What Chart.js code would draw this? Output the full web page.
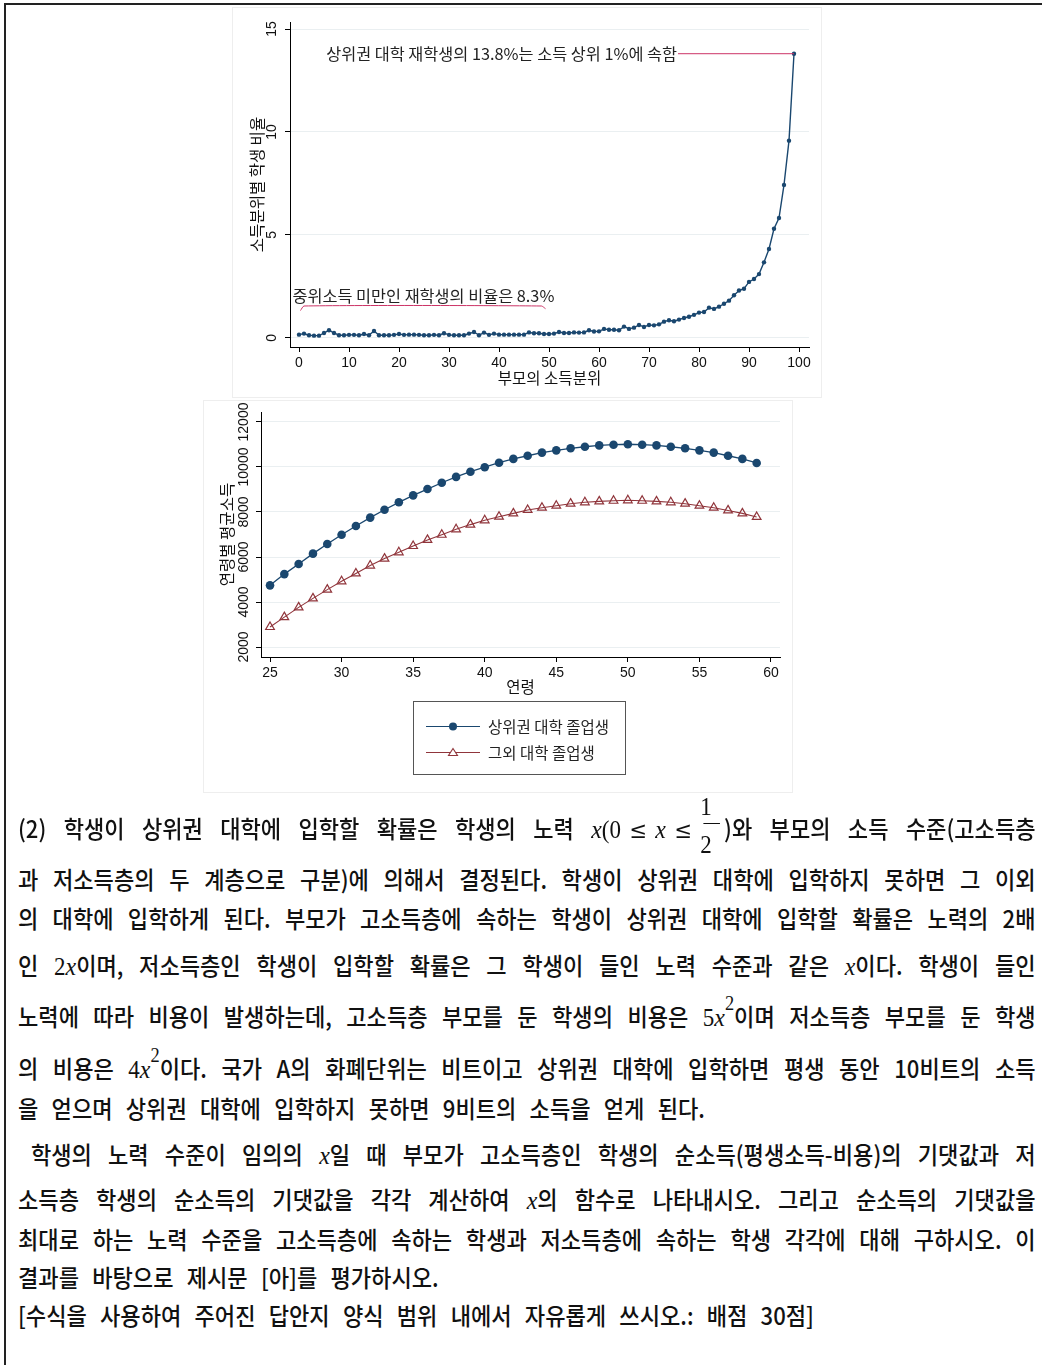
<!DOCTYPE html>
<html><head><meta charset="utf-8">
<script src="https://cdn.jsdelivr.net/npm/chart.js@4.4.0/dist/chart.umd.min.js"></script>
<style>
html,body{margin:0;padding:0;background:#fff;}
body{width:1042px;height:1365px;position:relative;overflow:hidden;font-family:"Noto Sans CJK KR",sans-serif;}
#frame{position:absolute;left:4px;top:3px;width:1100px;height:1400px;border-left:2px solid #222;border-top:2px solid #222;}
.panel{position:absolute;border:1px solid #eeeeee;box-sizing:border-box;}
canvas{position:absolute;}
.ln{position:absolute;left:18px;width:1106px;transform:scaleX(0.92);transform-origin:0 0;font-size:24px;font-weight:500;line-height:28px;color:#111;word-break:keep-all;white-space:normal;}
.j{text-align:justify;text-align-last:justify;}
.l{text-align:left;word-spacing:9px;}
.mb{display:inline-block;text-align:left;}
.mx{font-family:"Liberation Serif","DejaVu Serif",serif;font-style:italic;font-size:26px;font-weight:400;}
.mr{font-family:"Liberation Serif","DejaVu Serif",serif;font-size:25px;font-weight:400;}
.op{font-family:"DejaVu Serif",serif;font-size:23px;font-weight:400;margin:0 9px;}
.sup{position:relative;top:-0.8em;font-family:"Liberation Serif",serif;font-size:20px;font-weight:400;}
.frac{display:inline-block;position:relative;width:26px;height:1em;font-family:"Liberation Serif",serif;font-size:25px;font-weight:400;}
.frac .n{position:absolute;left:0;width:26px;text-align:center;top:-18px;line-height:24px;}
.frac .b{position:absolute;left:4px;width:18px;top:10px;border-top:1px solid #111;}
.frac .d{position:absolute;left:0;width:26px;text-align:center;top:20px;line-height:24px;}
</style>
</head><body>
<div id="frame"></div>
<div class="panel" style="left:232px;top:7px;width:590px;height:391px;"></div>
<div class="panel" style="left:203px;top:400px;width:590px;height:393px;"></div>
<canvas id="c1" width="590" height="391" style="left:232px;top:7px;"></canvas>
<canvas id="c2" width="590" height="393" style="left:203px;top:400px;"></canvas>

<div class="ln j" style="top:813px">(2) 학생이 상위권 대학에 입학할 확률은 학생의 노력 <span class="mb"><span class="mx">x</span><span class="mr">(0</span><span class="op">≤</span><span class="mx">x</span><span class="op">≤</span><span class="frac"><span class="n">1</span><span class="b"></span><span class="d">2</span></span></span>)와 부모의 소득 수준(고소득층</div>
<div class="ln j" style="top:865px">과 저소득층의 두 계층으로 구분)에 의해서 결정된다. 학생이 상위권 대학에 입학하지 못하면 그 이외</div>
<div class="ln j" style="top:904px">의 대학에 입학하게 된다. 부모가 고소득층에 속하는 학생이 상위권 대학에 입학할 확률은 노력의 2배</div>
<div class="ln j" style="top:951px">인 <span class="mr">2</span><span class="mx">x</span>이며, 저소득층인 학생이 입학할 확률은 그 학생이 들인 노력 수준과 같은 <span class="mx">x</span>이다. 학생이 들인</div>
<div class="ln j" style="top:1002px">노력에 따라 비용이 발생하는데, 고소득층 부모를 둔 학생의 비용은 <span class="mr">5</span><span class="mx">x</span><span class="sup">2</span>이며 저소득층 부모를 둔 학생</div>
<div class="ln j" style="top:1054px">의 비용은 <span class="mr">4</span><span class="mx">x</span><span class="sup">2</span>이다. 국가 A의 화폐단위는 비트이고 상위권 대학에 입학하면 평생 동안 10비트의 소득</div>
<div class="ln l" style="top:1094px">을 얻으며 상위권 대학에 입학하지 못하면 9비트의 소득을 얻게 된다.</div>
<div class="ln j" style="top:1140px;text-indent:14px">학생의 노력 수준이 임의의 <span class="mx">x</span>일 때 부모가 고소득층인 학생의 순소득(평생소득-비용)의 기댓값과 저</div>
<div class="ln j" style="top:1185px">소득층 학생의 순소득의 기댓값을 각각 계산하여 <span class="mx">x</span>의 함수로 나타내시오. 그리고 순소득의 기댓값을</div>
<div class="ln j" style="top:1225px">최대로 하는 노력 수준을 고소득층에 속하는 학생과 저소득층에 속하는 학생 각각에 대해 구하시오. 이</div>
<div class="ln l" style="top:1263px">결과를 바탕으로 제시문 [아]를 평가하시오.</div>
<div class="ln l" style="top:1301px">[수식을 사용하여 주어진 답안지 양식 범위 내에서 자유롭게 쓰시오.: 배점 30점]</div>

<script>
// ---------- Chart 1 data ----------
const percentiles = [0,1,2,3,4,5,6,7,8,9,10,11,12,13,14,15,16,17,18,19,20,21,22,23,24,25,26,27,28,29,30,31,32,33,34,35,36,37,38,39,40,41,42,43,44,45,46,47,48,49,50,51,52,53,54,55,56,57,58,59,60,61,62,63,64,65,66,67,68,69,70,71,72,73,74,75,76,77,78,79,80,81,82,83,84,85,86,87,88,89,90,91,92,93,94,95,96,97,98,99];
const studentShare = [0.16,0.21,0.13,0.11,0.11,0.24,0.37,0.24,0.13,0.13,
 0.15,0.15,0.13,0.19,0.13,0.34,0.13,0.13,0.13,0.15,
 0.19,0.15,0.16,0.16,0.15,0.13,0.13,0.15,0.13,0.23,
 0.15,0.13,0.13,0.13,0.21,0.29,0.13,0.26,0.15,0.21,
 0.16,0.16,0.16,0.16,0.16,0.16,0.27,0.23,0.23,0.19,
 0.19,0.21,0.29,0.24,0.24,0.27,0.26,0.27,0.37,0.31,
 0.32,0.44,0.40,0.40,0.37,0.55,0.44,0.50,0.63,0.53,
 0.63,0.61,0.66,0.79,0.86,0.81,0.89,0.97,1.03,1.12,
 1.23,1.26,1.47,1.41,1.52,1.66,1.81,2.07,2.30,2.39,
 2.72,2.86,3.10,3.67,4.32,5.30,5.82,7.43,9.58,13.80];
const xTicks1 = [0,10,20,30,40,50,60,70,80,90,100];
const yTicks1 = [0,5,10,15];
const bracketX = [0.3,1.0,48.5,49.3];
const bracketY = [1.33,1.55,1.55,1.42];
const note1 = '상위권 대학 재학생의 13.8%는 소득 상위 1%에 속함';
const note2 = '중위소득 미만인 재학생의 비율은 8.3%';
const yTitle1 = '소득분위별 학생 비율';
const xTitle1 = '부모의 소득분위';

// ---------- Chart 2 data ----------
const ages = [25,26,27,28,29,30,31,32,33,34,35,36,37,38,39,40,41,42,43,44,45,46,47,48,49,50,51,52,53,54,55,56,57,58,59];
const topGrad = [4740,5240,5690,6150,6580,6990,7380,7750,8100,8430,8740,9020,9300,9560,9790,9990,10190,10360,10500,10640,10740,10830,10900,10960,10990,11010,10990,10960,10900,10830,10740,10640,10500,10360,10180];
const otherGrad = [2890,3330,3760,4160,4550,4920,5270,5620,5930,6210,6490,6760,6990,7230,7440,7630,7790,7940,8090,8190,8280,8370,8430,8470,8500,8520,8500,8470,8430,8370,8280,8190,8070,7940,7780];
const xTicks2 = [25,30,35,40,45,50,55,60];
const yTicks2 = [2000,4000,6000,8000,10000,12000];
const seriesNames = ['상위권 대학 졸업생','그외 대학 졸업생'];
const yTitle2 = '연령별 평균소득';
const xTitle2 = '연령';

const BLUE='#1a476f', RED='#90353b', PINK='#cc3366', TXT='#111', GRID='#eaeff1';
const NUMFONT = '"Liberation Sans", Arial, sans-serif';
const KFONT = '"Noto Sans CJK KR", sans-serif';

function fitTo(size){ return function(scale){ if(scale.isHorizontal()) scale.height=size; else scale.width=size; }; }
function setTicks(list){ return function(axis){ axis.ticks = list.map(v=>({value:v})); }; }

function makeDecor(cfg){
  return {
    id:'decor'+cfg.key,
    afterDraw(chart){
      const ctx=chart.ctx, ys=chart.scales.y, ca=chart.chartArea;
      ctx.save();
      ctx.fillStyle=TXT;
      ctx.font='14px '+NUMFONT;
      ctx.textAlign='center'; ctx.textBaseline='middle';
      cfg.yTicks.forEach(v=>{
        const py=ys.getPixelForValue(v);
        ctx.save(); ctx.translate(cfg.yTickX,py); ctx.rotate(-Math.PI/2); ctx.fillText(String(v),0,0); ctx.restore();
      });
      ctx.font='15.5px '+KFONT;
      ctx.save(); ctx.translate(cfg.yTitleX,(ca.top+ca.bottom)/2); ctx.rotate(-Math.PI/2); ctx.fillText(cfg.yTitle,0,0); ctx.restore();
      ctx.fillText(cfg.xTitle,(ca.left+ca.right)/2,cfg.xTitleY);
      if(cfg.extra) cfg.extra(chart,ctx);
      ctx.restore();
    }
  };
}

function baseScales(xmin,xmax,ymin,ymax,xt,yt,xh,yw){
  return {
    x:{type:'linear',min:xmin,max:xmax,afterBuildTicks:setTicks(xt),afterFit:fitTo(xh),
       grid:{display:true,drawOnChartArea:false,drawTicks:true,tickLength:5,tickColor:'#000',tickWidth:1},
       border:{display:true,color:'#000',width:1},
       ticks:{color:TXT,font:{family:NUMFONT,size:14},padding:3,maxRotation:0,autoSkip:false}},
    y:{type:'linear',min:ymin,max:ymax,afterBuildTicks:setTicks(yt),afterFit:fitTo(yw),
       grid:{display:true,drawOnChartArea:true,color:GRID,drawTicks:true,tickLength:5,tickColor:'#000',tickWidth:1},
       border:{display:true,color:'#000',width:1},
       ticks:{display:false}}
  };
}

// ---- Chart 1 ----
const decor1 = makeDecor({key:1,yTicks:yTicks1,yTickX:40,yTitleX:25,yTitle:yTitle1,xTitle:xTitle1,xTitleY:371,
  extra(chart,ctx){
    const xs=chart.scales.x, ys=chart.scales.y;
    const n=percentiles.length-1;
    const px=xs.getPixelForValue(percentiles[n]), py=ys.getPixelForValue(studentShare[n]);
    const lx=xs.getPixelForValue(75.8);
    ctx.strokeStyle=PINK; ctx.lineWidth=1;
    ctx.beginPath(); ctx.moveTo(lx,py); ctx.lineTo(px,py); ctx.stroke();
    ctx.fillStyle='#222'; ctx.font='16.3px '+KFONT; ctx.textBaseline='middle';
    ctx.textAlign='right'; ctx.fillText(note1,lx-1,py);
    ctx.textAlign='left'; ctx.fillText(note2,xs.getPixelForValue(-1.3),ys.getPixelForValue(2.03));
  }});
new Chart(document.getElementById('c1'),{
  type:'line',
  data:{datasets:[
    {data:percentiles.map((p,i)=>({x:p,y:studentShare[i]})),borderColor:BLUE,backgroundColor:BLUE,borderWidth:1.4,pointRadius:2.2,pointBorderWidth:0,pointBackgroundColor:BLUE,tension:0},
    {data:bracketX.map((p,i)=>({x:p,y:bracketY[i]})),borderColor:PINK,borderWidth:1,pointRadius:0,tension:0.2}
  ]},
  options:{responsive:false,animation:false,devicePixelRatio:1,
    layout:{padding:{top:15,right:13,left:0,bottom:0}},
    plugins:{legend:{display:false},tooltip:{enabled:false}},
    scales:baseScales(-1.8,102,-0.44,15.34,xTicks1,yTicks1,51,58)},
  plugins:[decor1]
});

// ---- Chart 2 ----
const decor2 = makeDecor({key:2,yTicks:yTicks2,yTickX:41,yTitleX:24,yTitle:yTitle2,xTitle:xTitle2,xTitleY:287,
  extra(chart,ctx){
    ctx.strokeStyle='#555'; ctx.lineWidth=1;
    ctx.strokeRect(210.5,301.5,212,73);
    const rows=[{y:326,c:BLUE,s:'circle'},{y:352,c:RED,s:'triangle'}];
    rows.forEach((r,i)=>{
      ctx.strokeStyle=r.c; ctx.lineWidth=1.2;
      ctx.beginPath(); ctx.moveTo(223,r.y+0.5); ctx.lineTo(277,r.y+0.5); ctx.stroke();
      if(r.s==='circle'){ ctx.fillStyle=r.c; ctx.beginPath(); ctx.arc(250,r.y+0.5,4,0,Math.PI*2); ctx.fill(); }
      else { ctx.fillStyle='#fff'; ctx.lineWidth=1.1; ctx.beginPath(); ctx.moveTo(250,r.y-3.5); ctx.lineTo(254.5,r.y+3.5); ctx.lineTo(245.5,r.y+3.5); ctx.closePath(); ctx.fill(); ctx.stroke(); }
      ctx.fillStyle='#222'; ctx.font='15.5px '+KFONT; ctx.textAlign='left'; ctx.textBaseline='middle';
      ctx.fillText(seriesNames[i],285,r.y+1);
    });
  }});
new Chart(document.getElementById('c2'),{
  type:'line',
  data:{datasets:[
    {label:seriesNames[0],data:ages.map((a,i)=>({x:a,y:topGrad[i]})),borderColor:BLUE,backgroundColor:BLUE,borderWidth:1.3,pointRadius:4.3,pointBorderWidth:0,pointBackgroundColor:BLUE,tension:0},
    {label:seriesNames[1],data:ages.map((a,i)=>({x:a,y:otherGrad[i]})),borderColor:RED,borderWidth:1.1,pointStyle:'triangle',pointRadius:5,pointBorderWidth:1.2,pointBorderColor:RED,pointBackgroundColor:'rgba(255,255,255,0)',tension:0}
  ]},
  options:{responsive:false,animation:false,devicePixelRatio:1,
    layout:{padding:{top:12,right:13,left:0,bottom:0}},
    plugins:{legend:{display:false},tooltip:{enabled:false}},
    scales:baseScales(24.37,60.63,1556,12444,xTicks2,yTicks2,136,58)},
  plugins:[decor2]
});
</script>
</body></html>
